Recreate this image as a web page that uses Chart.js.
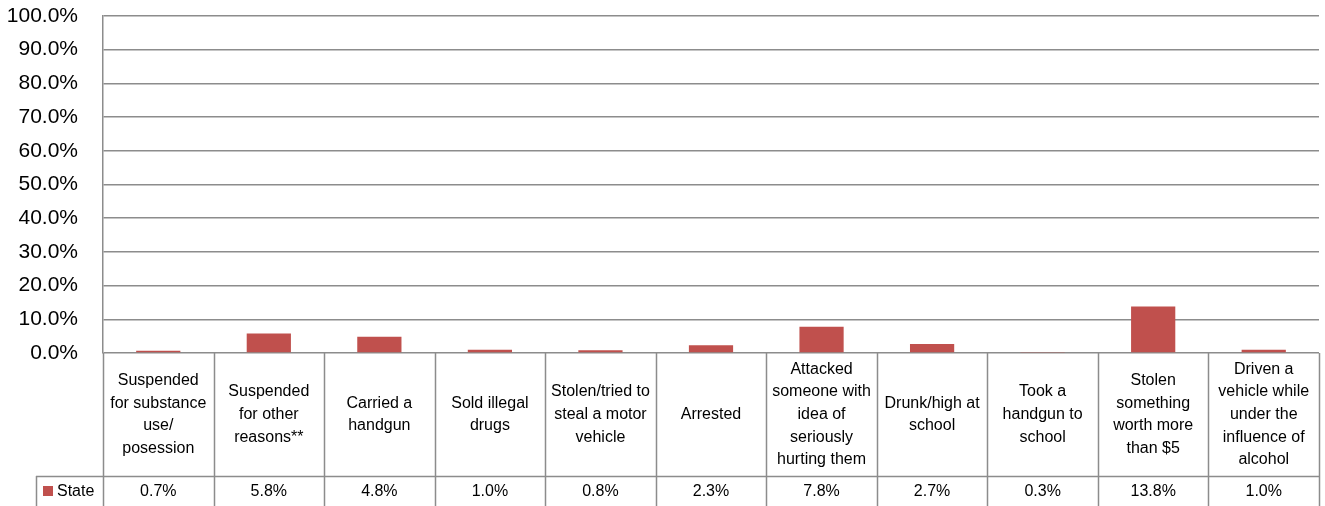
<!DOCTYPE html>
<html>
<head>
<meta charset="utf-8">
<script src="https://cdn.jsdelivr.net/npm/chart.js@4/dist/chart.umd.min.js"></script>
<style>
  html, body { margin: 0; padding: 0; background: #ffffff; }
  #wrap { width: 1325px; height: 506px; }
</style>
</head>
<body>
<div id="wrap"><canvas id="c" width="1325" height="506"></canvas></div>
<script>
const categories = [
  ["Suspended", "for substance", "use/", "posession"],
  ["Suspended", "for other", "reasons**"],
  ["Carried a", "handgun"],
  ["Sold illegal", "drugs"],
  ["Stolen/tried to", "steal a motor", "vehicle"],
  ["Arrested"],
  ["Attacked", "someone with", "idea of", "seriously", "hurting them"],
  ["Drunk/high at", "school"],
  ["Took a", "handgun to", "school"],
  ["Stolen", "something", "worth more", "than $5"],
  ["Driven a", "vehicle while", "under the", "influence of", "alcohol"]
];
const seriesName = "State";
const stateValues = [0.7, 5.8, 4.8, 1.0, 0.8, 2.3, 7.8, 2.7, 0.3, 13.8, 1.0];
const yTicks = [0, 10, 20, 30, 40, 50, 60, 70, 80, 90, 100];

const FONT = '"Liberation Sans", Arial, sans-serif';
const BAR = '#C0504D';
const LINE = '#8C8C8C';

const tablePlugin = {
  id: 'dataTable',
  afterDraw(chart) {
    const ctx = chart.ctx;
    const x = chart.scales.x;
    const area = chart.chartArea;
    const n = categories.length;
    const step = x.getPixelForValue(1) - x.getPixelForValue(0);
    const top = area.bottom;
    const rowY = top + 123;
    const bottom = chart.height + 2;
    const left = x.getPixelForValue(0) - step / 2;
    const right = x.getPixelForValue(n - 1) + step / 2;
    const legendLeft = 36;

    ctx.save();
    ctx.strokeStyle = LINE;
    ctx.lineWidth = 1.5;
    ctx.beginPath();
    for (let i = 0; i <= n; i++) {
      const px = Math.round(left + i * step) + 0.5;
      ctx.moveTo(px, top);
      ctx.lineTo(px, bottom);
    }
    ctx.moveTo(legendLeft + 0.5, rowY);
    ctx.lineTo(legendLeft + 0.5, bottom);
    ctx.moveTo(legendLeft, Math.round(rowY) + 0.5);
    ctx.lineTo(right, Math.round(rowY) + 0.5);
    ctx.stroke();

    ctx.fillStyle = '#000';
    ctx.font = '16px ' + FONT;
    ctx.textAlign = 'center';
    ctx.textBaseline = 'middle';
    const lh = 22.7;
    const midCat = (top + rowY) / 2;
    for (let i = 0; i < n; i++) {
      const cx = x.getPixelForValue(i);
      const lines = categories[i];
      const start = midCat - (lines.length - 1) * lh / 2;
      lines.forEach((t, k) => ctx.fillText(t, cx, start + k * lh));
      ctx.fillText(stateValues[i].toFixed(1) + '%', cx, rowY + 16);
    }
    ctx.fillStyle = BAR;
    ctx.fillRect(43, rowY + 10, 10, 10);
    ctx.fillStyle = '#000';
    ctx.textAlign = 'left';
    ctx.fillText(seriesName, 57, rowY + 16);
    ctx.restore();
  }
};

new Chart(document.getElementById('c'), {
  type: 'bar',
  data: {
    labels: categories,
    datasets: [{
      label: seriesName,
      data: stateValues,
      backgroundColor: BAR,
      borderWidth: 0,
      barPercentage: 0.4,
      categoryPercentage: 1.0
    }]
  },
  options: {
    responsive: false,
    animation: false,
    devicePixelRatio: 1,
    layout: { padding: { top: 16, right: 6, left: 0, bottom: 0 } },
    plugins: {
      legend: { display: false },
      title: { display: false },
      tooltip: { enabled: false }
    },
    scales: {
      x: {
        grid: { display: false, drawTicks: false },
        border: { display: false },
        ticks: { display: false },
        afterFit(scale) { scale.height = 153; scale.paddingLeft = 0; scale.paddingRight = 0; }
      },
      y: {
        min: 0,
        max: 100,
        afterBuildTicks(scale) { scale.ticks = yTicks.map(v => ({ value: v })); },
        ticks: {
          padding: 25,
          color: '#000',
          font: { family: FONT, size: 21 },
          callback: v => Number(v).toFixed(1) + '%'
        },
        grid: { color: LINE, lineWidth: 1.5, drawTicks: false },
        border: { display: true, color: LINE, width: 1.5 },
        afterFit(scale) { scale.width = 103; scale.paddingTop = 0; scale.paddingBottom = 0; }
      }
    }
  },
  plugins: [tablePlugin]
});
</script>
</body>
</html>
